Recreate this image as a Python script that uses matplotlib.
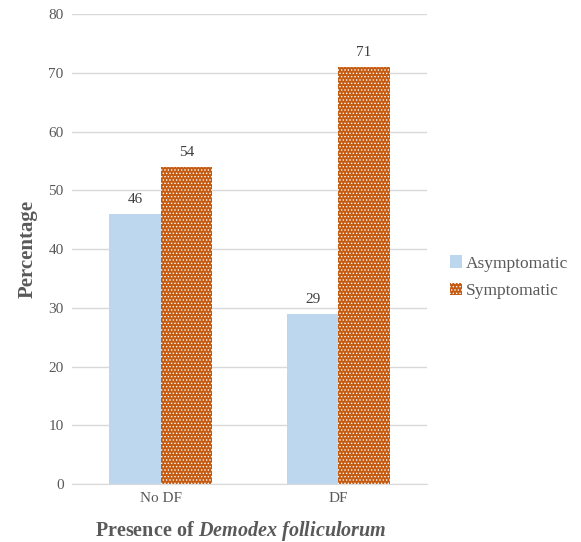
import numpy as np
import matplotlib
matplotlib.use("Agg")
import matplotlib.pyplot as plt

plt.rcParams['font.family'] = ['Liberation Serif', 'DejaVu Serif']
plt.rcParams['mathtext.fontset'] = 'custom'
plt.rcParams['mathtext.rm'] = 'Liberation Serif:bold'
plt.rcParams['mathtext.bf'] = 'Liberation Serif:bold'
plt.rcParams['mathtext.it'] = 'Liberation Serif:italic:bold'
plt.rcParams['hatch.linewidth'] = 0.6

categories = ['No DF', 'DF']
asymptomatic = [46, 29]
symptomatic = [54, 71]

gray = '#595959'

fig = plt.figure(figsize=(5.81, 5.42), dpi=100)
ax = fig.add_axes([0.124, 0.107, 0.611, 0.867])

x = np.arange(len(categories))
w = 0.29
b1 = ax.bar(x - w / 2, asymptomatic, w, color='#bdd7ee', label='Asymptomatic', zorder=2)
b2 = ax.bar(x + w / 2, symptomatic, w, color='#c55a11', edgecolor='white',
            linewidth=0, hatch='.....', label='Symptomatic', zorder=2)

# value labels above each bar
for bars, vals in ((b1, asymptomatic), (b2, symptomatic)):
    for r, v in zip(bars, vals):
        ax.text(r.get_x() + r.get_width() / 2, v + 1.3, str(v), ha='center', va='bottom',
                fontsize=11, color='#404040')

ax.set_xlim(-0.5, 1.5)
ax.set_ylim(0, 80)
ax.set_yticks(range(0, 81, 10))
ax.set_xticks(x)
ax.set_xticklabels(categories)
ax.grid(axis='y', color='#d9d9d9', linewidth=1, zorder=0)
for s in ('top', 'right', 'left'):
    ax.spines[s].set_visible(False)
ax.spines['bottom'].set_color('#d9d9d9')
ax.tick_params(axis='y', length=0, labelsize=11, colors=gray, pad=6)
ax.tick_params(axis='x', length=0, labelsize=11, colors=gray, pad=6)

ax.set_ylabel('Percentage', fontsize=15, fontweight='bold', color=gray, labelpad=8)
ax.set_xlabel(r'$\mathrm{Presence\ of\ }\mathit{Demodex\ folliculorum}$', fontsize=14.5,
              color=gray, labelpad=10, x=0.475)

leg = ax.legend(loc='center left', bbox_to_anchor=(1.02, 0.44), frameon=False,
                fontsize=12.5, handlelength=0.7, handleheight=0.7, handletextpad=0.25,
                labelspacing=0.65)
for t in leg.get_texts():
    t.set_color(gray)

fig.savefig('out.png', dpi=100)
